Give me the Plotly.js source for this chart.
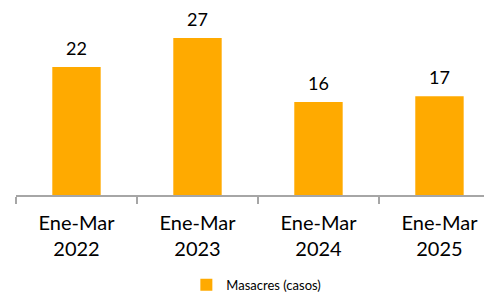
<!DOCTYPE html>
<html>
<head>
<meta charset="utf-8">
<script src="https://cdn.plot.ly/plotly-3.0.1.min.js"></script>
<style>html,body{margin:0;padding:0;background:#fff;}#chart{width:484px;height:293px;}</style>
</head>
<body>
<div id="chart"></div>
<script>
const categories = ["Ene-Mar<br>2022", "Ene-Mar<br>2023", "Ene-Mar<br>2024", "Ene-Mar<br>2025"];
const masacres = [22, 27, 16, 17];
const seriesName = "Masacres (casos)";

const FONT = "Lato, 'Open Sans', sans-serif";

const trace = {
  type: "bar",
  x: categories,
  y: masacres,
  name: seriesName,
  width: 0.4,
  marker: {color: "#FFAA00"},
  hoverinfo: "skip",
  showlegend: true
};

const annotations = categories.map((c, i) => ({
  x: c, y: masacres[i], xref: "x", yref: "y",
  text: String(masacres[i]), showarrow: false,
  yanchor: "bottom", yshift: 6,
  font: {family: FONT, size: 18, color: "#000"}
}));

const layout = {
  width: 484, height: 293,
  margin: {l: 16, r: 0, t: 20, b: 98, pad: 0, autoexpand: false},
  paper_bgcolor: "#fff", plot_bgcolor: "#fff",
  font: {family: FONT, color: "#000"},
  showlegend: true,
  legend: {orientation: "h", x: 0.364, xanchor: "left", y: -0.513, yanchor: "middle",
           itemwidth: 30,
           font: {family: "Lato, sans-serif", size: 13, color: "#000"},
           bgcolor: "rgba(0,0,0,0)"},
  xaxis: {
    type: "category",
    automargin: false,
    range: [-0.5, 3.368],
    showline: true, linecolor: "#A6A6A6", linewidth: 1.5,
    ticks: "outside", tickson: "boundaries", ticklen: 7, tickcolor: "#A6A6A6", tickwidth: 1.5,
    ticklabelstandoff: 9,
    tickfont: {family: FONT, size: 20, color: "#000"},
    showgrid: false, zeroline: false, fixedrange: true
  },
  yaxis: {
    range: [0, 30.1], visible: false, showgrid: false, zeroline: false, fixedrange: true, automargin: false
  },
  annotations: annotations
};

Plotly.newPlot("chart", [trace], layout, {displayModeBar: false, staticPlot: true});
</script>
</body>
</html>
